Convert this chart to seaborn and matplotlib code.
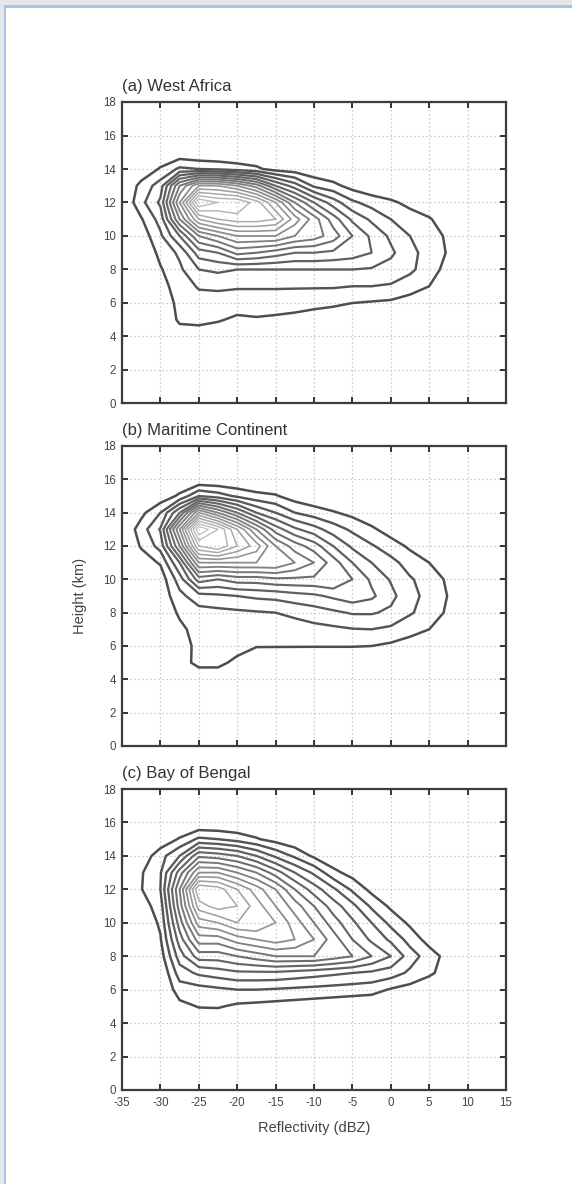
import numpy as np
import matplotlib
matplotlib.use("Agg")
import matplotlib.pyplot as plt
from matplotlib.patches import Rectangle
import seaborn as sns

# ---------------- data ----------------
# grid: reflectivity columns (dBZ) x height rows (km)
DBZ = [-35, -32.5, -30, -27.5, -25, -22.5, -20, -17.5, -15, -12.5,
       -10, -7.5, -5, -2.5, 0, 2.5, 5, 7.5, 10]
HEIGHTS = [3, 4, 5, 6, 7, 8, 9, 10, 11, 12, 13, 14, 15, 16, 17]

# relative frequency (contour units); one list per dBZ column, heights 3..17 km
west_africa = [
    [0, 0, 0, 0, 0, 0, 0, 0, 0, 0, 0, 0, 0, 0, 0],
    [0, 0, 0, 0, 0, 0, 0, 0.4, 0.9, 1.7, 1.3, 0.3, 0, 0, 0],
    [0, 0, 0, 0.3, 0.6, 0.9, 1.3, 1.8, 2.4, 3.2, 2.5, 1.1, 0.2, 0, 0],
    [0, 0.4, 1.2, 1.3, 1.5, 1.8, 2.2, 4, 7, 9, 7, 2.2, 0.2, 0, 0],
    [0, 0.4, 1.3, 1.6, 2.1, 3.0, 4.5, 7, 11, 15, 10, 2, 0, 0, 0],
    [0, 0.3, 1.1, 1.5, 2.2, 3.2, 5, 8, 12, 14, 10, 1.8, 0, 0, 0],
    [0, 0.1, 0.8, 1.5, 2.1, 3.0, 6.3, 9, 12.5, 14, 9, 1.5, 0, 0, 0],
    [0, 0, 0.9, 1.5, 2.1, 3.0, 6, 9, 12.5, 12.5, 7.5, 1.2, 0, 0, 0],
    [0, 0, 0.8, 1.5, 2.1, 3.0, 5.5, 9, 12, 10, 5, 0.6, 0, 0, 0],
    [0, 0, 0.7, 1.4, 2.1, 3, 5, 8, 9.5, 7, 3.5, 0.4, 0, 0, 0],
    [0, 0, 0.5, 1.3, 2.1, 3, 5, 7.5, 7.5, 5, 1.8, 0.2, 0, 0, 0],
    [0, 0, 0.3, 1.2, 2.1, 3, 4.8, 6.5, 5.5, 3.5, 1.3, 0, 0, 0, 0],
    [0, 0, 0, 1.0, 2.0, 3, 4.5, 5, 3.8, 2.2, 0.6, 0, 0, 0, 0],
    [0, 0, 0, 0.9, 2.0, 2.9, 4, 3.8, 2.8, 1.6, 0.2, 0, 0, 0, 0],
    [0, 0, 0, 0.8, 1.9, 2.6, 3.2, 2.8, 2.0, 1.2, 0, 0, 0, 0, 0],
    [0, 0, 0, 0.5, 1.5, 2.2, 2.3, 2.0, 1.5, 0.7, 0, 0, 0, 0, 0],
    [0, 0, 0, 0.1, 1.0, 1.5, 1.6, 1.5, 1.1, 0.3, 0, 0, 0, 0, 0],
    [0, 0, 0, 0, 0, 0.6, 0.9, 0.8, 0.4, 0, 0, 0, 0, 0, 0],
    [0, 0, 0, 0, 0, 0, 0, 0, 0, 0, 0, 0, 0, 0, 0],
]

maritime_continent = [
    [0, 0, 0, 0, 0, 0, 0, 0, 0, 0, 0, 0, 0, 0, 0],
    [0, 0, 0, 0, 0, 0, 0, 0, 0.5, 1.1, 1.5, 0.7, 0, 0, 0],
    [0, 0, 0, 0, 0, 0, 0.3, 0.4, 1.1, 2.4, 3.1, 2.0, 0.3, 0, 0],
    [0, 0, 0.7, 0.5, 0.7, 1.2, 1.7, 2.5, 4, 7, 9, 5, 1.2, 0, 0],
    [0, 0.5, 1.2, 1.3, 1.5, 1.6, 2.6, 5.5, 9, 13, 16, 10, 3, 0, 0],
    [0, 0.5, 1.2, 1.3, 1.5, 1.7, 2.8, 5, 9, 14, 14, 8, 2.5, 0, 0],
    [0, 0.2, 0.8, 1.3, 1.5, 1.8, 3, 5.5, 9, 12, 11, 6, 1.8, 0, 0],
    [0, 0, 0.3, 1.05, 1.4, 1.9, 3.2, 5.5, 9, 10.5, 8, 4, 1.3, 0, 0],
    [0, 0, 0.2, 1.05, 1.4, 2.0, 3.3, 5.8, 9, 8, 5.5, 3, 1.1, 0, 0],
    [0, 0, 0.1, 1.05, 1.6, 2.2, 3.6, 5.8, 8, 6.5, 4.2, 2, 0.5, 0, 0],
    [0, 0, 0, 1.05, 1.7, 2.5, 3.8, 5.8, 7, 5.5, 3.4, 1.5, 0.2, 0, 0],
    [0, 0, 0, 1.05, 1.8, 2.8, 4.2, 6, 5.5, 4, 2.5, 1.1, 0, 0, 0],
    [0, 0, 0, 1.05, 1.95, 3.1, 4.6, 5, 4, 2.8, 1.8, 0.7, 0, 0, 0],
    [0, 0, 0, 1.0, 2.0, 3.1, 4.2, 3.8, 3, 2.1, 1.2, 0.2, 0, 0, 0],
    [0, 0, 0, 0.8, 1.8, 2.8, 3.3, 2.9, 2.3, 1.5, 0.5, 0, 0, 0, 0],
    [0, 0, 0, 0.5, 1.4, 2.1, 2.3, 2.1, 1.6, 0.8, 0, 0, 0, 0, 0],
    [0, 0, 0, 0.2, 1.0, 1.6, 1.7, 1.6, 1.0, 0.2, 0, 0, 0, 0, 0],
    [0, 0, 0, 0, 0, 0.8, 0.95, 0.8, 0.3, 0, 0, 0, 0, 0, 0],
    [0, 0, 0, 0, 0, 0, 0, 0, 0, 0, 0, 0, 0, 0, 0],
]

bay_of_bengal = [
    [0, 0, 0, 0, 0, 0, 0, 0, 0, 0, 0, 0, 0, 0, 0],
    [0, 0, 0, 0, 0, 0, 0, 0, 0.5, 0.95, 0.9, 0.3, 0, 0, 0],
    [0, 0, 0, 0, 0, 0.5, 0.9, 1.2, 1.5, 2.0, 1.9, 1.6, 0.3, 0, 0],
    [0, 0, 0.7, 1.5, 2.5, 3.5, 4.5, 5.5, 6.5, 7, 5.5, 3, 1.1, 0, 0],
    [0, 0.3, 1.05, 1.6, 3.2, 5.5, 7.5, 9.5, 11.5, 13, 9, 5.8, 2.2, 0, 0],
    [0, 0.1, 1.1, 1.8, 3.5, 5.5, 7.5, 10, 12.5, 12.5, 9, 5.5, 2, 0, 0],
    [0, 0, 0.8, 2.0, 3.8, 6, 8.5, 11, 12, 11, 8, 5, 1.6, 0, 0],
    [0, 0, 0.7, 2.0, 3.8, 6.5, 9, 11, 10.5, 9.5, 7, 4, 1.1, 0, 0],
    [0, 0, 0.6, 1.9, 3.8, 7, 9.5, 10, 9, 8, 5.5, 2.8, 0.6, 0, 0],
    [0, 0, 0.5, 1.8, 3.6, 7, 9, 8.5, 7.5, 6, 4, 1.8, 0.2, 0, 0],
    [0, 0, 0.4, 1.7, 3.4, 7, 8, 7, 6, 4.5, 2.8, 0.8, 0, 0, 0],
    [0, 0, 0.3, 1.6, 3.2, 6.5, 6.5, 5.5, 4.5, 3.2, 1.3, 0.2, 0, 0, 0],
    [0, 0, 0.2, 1.5, 3.0, 6, 5, 4.2, 3.3, 1.8, 0.6, 0, 0, 0, 0],
    [0, 0, 0.1, 1.4, 2.8, 5, 3.8, 3.0, 1.8, 0.7, 0, 0, 0, 0, 0],
    [0, 0, 0, 0.9, 2.5, 4, 2.8, 1.7, 0.8, 0, 0, 0, 0, 0, 0],
    [0, 0, 0, 0.6, 1.8, 2.5, 1.6, 0.8, 0, 0, 0, 0, 0, 0, 0],
    [0, 0, 0, 0.2, 1.2, 1.5, 0.6, 0, 0, 0, 0, 0, 0, 0, 0],
    [0, 0, 0, 0, 0.5, 0.6, 0, 0, 0, 0, 0, 0, 0, 0, 0],
    [0, 0, 0, 0, 0, 0, 0, 0, 0, 0, 0, 0, 0, 0, 0],
]

PANEL_TITLES = ["(a) West Africa", "(b) Maritime Continent", "(c) Bay of Bengal"]
CONTOUR_LEVELS = list(range(1, 16))
X_TICKS = [-35, -30, -25, -20, -15, -10, -5, 0, 5, 10, 15]
Y_TICKS = [0, 2, 4, 6, 8, 10, 12, 14, 16, 18]
X_LABEL = "Reflectivity (dBZ)"
Y_LABEL = "Height (km)"

# ---------------- style ----------------
sns.set_style("ticks")
plt.rcParams["font.family"] = ["Liberation Sans", "DejaVu Sans"]
plt.rcParams["axes.unicode_minus"] = False

W, H = 572, 1184
fig = plt.figure(figsize=(W / 100, H / 100), dpi=100)
fig.patch.set_facecolor("white")

# page frame (grey margin + light-blue rule on the left and top)
fig.add_artist(Rectangle((0, 0), 4 / W, 1, transform=fig.transFigure,
                         facecolor="#e6e7ea", edgecolor="none"))
fig.add_artist(Rectangle((0, 1 - 5 / H), 1, 5 / H, transform=fig.transFigure,
                         facecolor="#e6e7ea", edgecolor="none"))
fig.add_artist(Rectangle((3.5 / W, 0), 2.2 / W, 1 - 5 / H, transform=fig.transFigure,
                         facecolor="#a4c7e7", edgecolor="none"))
fig.add_artist(Rectangle((3.5 / W, 1 - 7.5 / H), 1, 2.5 / H, transform=fig.transFigure,
                         facecolor="#a4c7e7", edgecolor="none"))

line_colors = sns.blend_palette(["#4e4e4e", "#6a6a6a", "#9a9a9a", "#c4c4c4"],
                                n_colors=len(CONTOUR_LEVELS))
line_widths = np.linspace(1.8, 0.9, len(CONTOUR_LEVELS))

# axes boxes in pixels: (left, top, right, bottom)
boxes = [(122, 102, 506, 403.5), (122, 446, 506, 746), (122, 789, 506, 1090)]
datasets = [west_africa, maritime_continent, bay_of_bengal]

for i, (box, data, title) in enumerate(zip(boxes, datasets, PANEL_TITLES)):
    l, t, r, b = box
    ax = fig.add_axes([l / W, 1 - b / H, (r - l) / W, (b - t) / H])
    Z = np.array(data, dtype=float).T  # heights x dBZ
    cs = ax.contour(DBZ, HEIGHTS, Z, levels=CONTOUR_LEVELS, colors=line_colors,
                    linewidths=line_widths)
    cs.set_joinstyle("round") if hasattr(cs, "set_joinstyle") else None
    ax.set_xlim(-35, 15)
    ax.set_ylim(0, 18)
    ax.set_xticks(X_TICKS)
    ax.set_yticks(Y_TICKS)
    ax.grid(True, color="#bdbdbd", linestyle=(0, (1, 2.2)), linewidth=0.9)
    ax.tick_params(direction="in", top=True, right=True, length=4, width=1.4,
                   colors="#333333", labelsize=8.3, labelcolor="#444444")
    ax.tick_params(axis="x", pad=5)
    ax.tick_params(axis="y", pad=4.5)
    for sp in ax.spines.values():
        sp.set_color("#3c3c3c")
        sp.set_linewidth(1.6)
    ax.annotate(title, xy=(0, 1), xycoords="axes fraction", xytext=(0, 11),
                textcoords="offset points", ha="left", va="center",
                fontsize=12, color="#333333")
    if i < 2:
        ax.set_xticklabels([])
    else:
        ax.set_xlabel(X_LABEL, fontsize=10.5, color="#444444", va="center")
        ax.xaxis.set_label_coords(0.5, -38 / (b - t))
    if i == 1:
        ax.set_ylabel(Y_LABEL, fontsize=10.5, color="#444444", va="center")
        ax.yaxis.set_label_coords((80 - l) / (r - l), 0.5)

fig.savefig("out.png", dpi=100)
